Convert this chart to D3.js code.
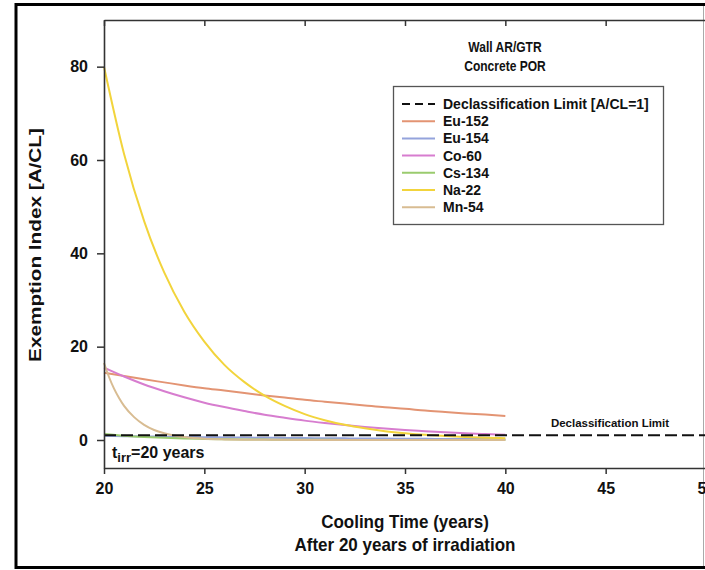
<!DOCTYPE html>
<html><head><meta charset="utf-8">
<script src="https://cdn.jsdelivr.net/npm/d3@7"></script>
<style>
body{margin:0;background:#fff}
svg text{font-family:"Liberation Sans",Arial,Helvetica,sans-serif;font-weight:bold;fill:#111}
</style>
</head><body>
<svg id="chart" width="705" height="570"></svg>
<script>
// ---- data ----
const years = [20,21,22,23,24,25,26,27,28,29,30,31,32,33,34,35,36,37,38,39,40];
const eu152 = [14.4,13.7,13.0,12.35,11.7,11.1,10.6,10.05,9.55,9.1,8.6,8.2,7.8,7.4,7.0,6.7,6.3,6.0,5.7,5.45,5.15];
const eu154 = [0.9,0.83,0.77,0.71,0.65,0.6,0.56,0.52,0.48,0.44,0.41,0.38,0.35,0.32,0.3,0.27,0.25,0.23,0.21,0.2,0.18];
const co60  = [15.5,13.6,11.9,10.45,9.15,8.0,7.05,6.2,5.4,4.75,4.15,3.65,3.2,2.8,2.45,2.15,1.9,1.65,1.45,1.28,1.12];
const cs134 = [1.3,0.93,0.66,0.47,0.34,0.24,0.17,0.12,0.09,0.06,0.04,0.03,0.02,0.015,0.01,0.008,0.005,0.004,0.003,0.002,0.001];
const na22  = [80,61.3,46.9,35.9,27.5,21.1,16.1,12.4,9.5,7.3,5.55,4.25,3.25,2.5,1.9,1.45,1.1,0.86,0.66,0.5,0.39];
const mn54Years = [20,20.25,20.5,20.75,21,21.5,22,22.5,23,23.5,24,25,26,27,28,30,32,34,36,38,40];
const mn54  = [16.5,13.5,11.0,9.0,7.3,4.9,3.25,2.15,1.45,0.95,0.64,0.28,0.13,0.06,0.03,0.01,0.005,0.002,0.001,0,0];
const limitX = [20,50];
const limitY = [1,1];
const seriesNames = ["Eu-152","Eu-154","Co-60","Cs-134","Na-22","Mn-54"];
const seriesColors = ["#e39473","#94a3dc","#d77dcf","#9acb6e","#f2d43c","#d8bc92"];
const xTicks = [20,25,30,35,40,45,50];
const yTicks = [0,20,40,60,80];

const series = [
  {name:seriesNames[0], x:years, y:eu152},
  {name:seriesNames[1], x:years, y:eu154},
  {name:seriesNames[2], x:years, y:co60},
  {name:seriesNames[3], x:years, y:cs134},
  {name:seriesNames[4], x:years, y:na22},
  {name:seriesNames[5], x:mn54Years, y:mn54}
];

// ---- layout ----
const svg = d3.select("#chart");
const L = 104, T = 20, R = 706, B = 468;
const x = d3.scaleLinear().domain([20,50]).range([L,R]);
const y = d3.scaleLinear().domain([-6,90]).range([B,T]);

// outer frame
svg.append("line").attr("x1",703.5).attr("x2",703.5).attr("y1",4).attr("y2",568).attr("stroke","#aaa").attr("stroke-width",1);
svg.append("path").attr("d","M706,4.5 H16 V567.5 H706").attr("fill","none").attr("stroke","#000").attr("stroke-width",3);

// curves
const line = d3.line().curve(d3.curveMonotoneX);
const lg = svg.append("g");
series.forEach((s,i)=>{
  lg.append("path")
    .attr("d", line(s.x.map((v,k)=>[x(v), y(s.y[k])])))
    .attr("fill","none").attr("stroke",seriesColors[i]).attr("stroke-width",2);
});
// declassification limit
svg.append("path")
  .attr("d", line(limitX.map((v,k)=>[x(v), y(limitY[k])])))
  .attr("fill","none").attr("stroke","#111").attr("stroke-width",2).attr("stroke-dasharray","12,5");

// axes
const axColor = "#333";
const gx = svg.append("g").attr("transform",`translate(0,${B})`)
  .call(d3.axisBottom(x).tickValues(xTicks).tickSize(6).tickSizeOuter(0).tickPadding(9));
const gxt = svg.append("g").attr("transform",`translate(0,${T})`)
  .call(d3.axisBottom(x).tickValues(xTicks).tickSize(6).tickSizeOuter(0).tickFormat(""));
const gy = svg.append("g").attr("transform",`translate(${L},0)`)
  .call(d3.axisLeft(y).tickValues(yTicks).tickSize(7).tickSizeOuter(0).tickPadding(9));
[gx,gxt,gy].forEach(g=>{
  g.select(".domain").attr("stroke",axColor).attr("stroke-width",1.6);
  g.selectAll(".tick line").attr("stroke",axColor).attr("stroke-width",1.5);
  g.selectAll(".tick text").style("font-size","16px").attr("fill","#111");
});

// axis titles
svg.append("text").attr("transform","translate(405,528) scale(1,1.1)").attr("text-anchor","middle").style("font-size","17px").text("Cooling Time (years)");
svg.append("text").attr("transform","translate(405,551) scale(1,1.1)").attr("text-anchor","middle").style("font-size","17px").text("After 20 years of irradiation");
svg.append("text").attr("transform","translate(41,245) rotate(-90) scale(1.22,1)").attr("text-anchor","middle").style("font-size","17px").text("Exemption Index [A/CL]");

// title
svg.append("text").attr("transform","translate(505,52) scale(0.86,1)").attr("text-anchor","middle").style("font-size","14px").text("Wall AR/GTR");
svg.append("text").attr("transform","translate(505,71) scale(0.86,1)").attr("text-anchor","middle").style("font-size","14px").text("Concrete POR");

// legend
const leg = svg.append("g");
leg.append("rect").attr("x",393.5).attr("y",86.5).attr("width",270).attr("height",138)
  .attr("fill","#fff").attr("stroke","#555").attr("stroke-width",1.3);
const legItems = [{name:"Declassification Limit [A/CL=1]", color:"#111", dash:"8,5"}]
  .concat(seriesNames.map((n,i)=>({name:n, color:seriesColors[i], dash:null})));
legItems.forEach((d,i)=>{
  const yy = 104 + i*17.2;
  leg.append("line").attr("x1",402).attr("x2",435).attr("y1",yy).attr("y2",yy)
    .attr("stroke",d.color).attr("stroke-width",2).attr("stroke-dasharray",d.dash);
  leg.append("text").attr("x",443).attr("y",yy).attr("dy","0.36em").style("font-size","14px").text(d.name);
});

// annotations
svg.append("text").attr("x",610).attr("y",427).attr("text-anchor","middle").style("font-size","11.5px").text("Declassification Limit");
const t = svg.append("text").attr("x",112).attr("y",458).style("font-size","16px");
t.append("tspan").text("t");
t.append("tspan").attr("dy",4).style("font-size","13px").text("irr");
t.append("tspan").attr("dy",-4).text("=20 years");
</script>
</body></html>
